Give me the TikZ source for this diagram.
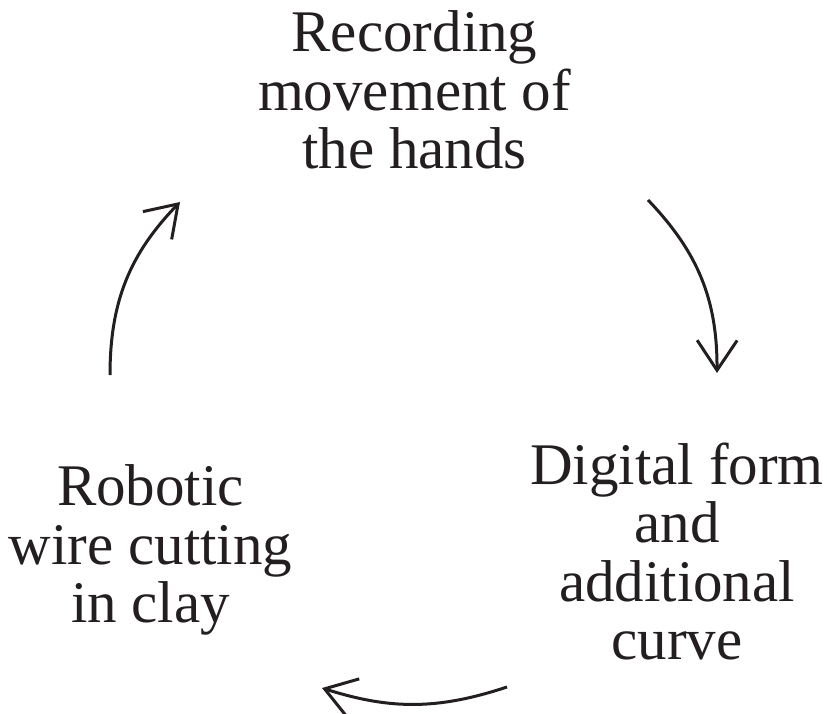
\documentclass[tikz,border=0pt]{standalone}
\usepackage{fontspec}
\setmainfont{Liberation Serif}
\usetikzlibrary{arrows.meta}
\definecolor{cycleink}{HTML}{231F20}
\tikzset{
  steptext/.style={font=\fontsize{59}{58.5}\selectfont, text=cycleink,
    align=center, inner sep=0pt, anchor=north},
  cycleflow/.style={-{Straight Barb[length=30pt,width=40pt,line width=3pt]},
    draw=cycleink, line width=3pt}
}

\begin{document}
\begin{tikzpicture}[x=1pt,y=1pt]
  % Three-stage loop, read clockwise from the top.
  \useasboundingbox (0,0) rectangle (827,-714);
  \node[steptext] (record) at (414.5,-10.7) {Recording\\movement of\\the hands};
  \node[steptext] (digital) at (677,-442.7) {Digital form\\and\\additional\\curve};
  \node[steptext] (robot) at (150.5,-464.7) {Robotic\\wire cutting\\in clay};

  \coordinate (recordout) at (648,-200);
  \coordinate (digitalin) at (717,-373);
  \coordinate (digitalout) at (507,-687);
  \coordinate (robotin) at (322,-688);
  \coordinate (robotout) at (110,-375);
  \coordinate (recordin) at (180,-202);

  \draw[cycleflow] (recordout) to[bend left=22] (digitalin);
  \draw[cycleflow] (digitalout) to[bend left=18] (robotin);
  \draw[cycleflow] (robotout) to[bend left=22] (recordin);
\end{tikzpicture}
\end{document}
